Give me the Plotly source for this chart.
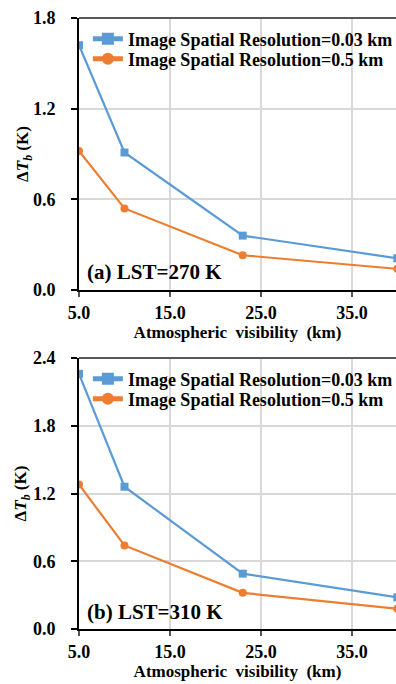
import plotly.graph_objects as go
from plotly.subplots import make_subplots

visibility = [5, 10, 23, 40]
a_res003 = [1.62, 0.91, 0.36, 0.21]
a_res05 = [0.92, 0.54, 0.23, 0.14]
b_res003 = [2.26, 1.26, 0.49, 0.28]
b_res05 = [1.28, 0.74, 0.32, 0.18]
name_003 = "Image Spatial Resolution=0.03 km"
name_05 = "Image Spatial Resolution=0.5 km"
x_ticks = [5, 15, 25, 35]
a_yticks = [0.0, 0.6, 1.2, 1.8]
b_yticks = [0.0, 0.6, 1.2, 1.8, 2.4]

BLUE = "#5B9BD5"
ORANGE = "#ED7D31"
FONT = "Liberation Serif"

fig = make_subplots(rows=2, cols=1, vertical_spacing=0.111)
fig.update_layout(
    xaxis=dict(domain=[0, 1]),
    yaxis=dict(domain=[0.5548, 1.0]),
    xaxis2=dict(domain=[0, 1]),
    yaxis2=dict(domain=[0.0, 0.4435]),
)

legs = [("legend", "legend2"), ("legend3", "legend4")]
for row, (s1, s2) in enumerate([(a_res003, a_res05), (b_res003, b_res05)], start=1):
    l1, l2 = legs[row - 1]
    fig.add_trace(go.Scatter(x=visibility, y=s1, name="<b>" + name_003 + "</b>", mode="lines+markers",
                             line=dict(color=BLUE, width=2.2),
                             marker=dict(symbol="square", size=8, color=BLUE),
                             legend=l1, cliponaxis=True), row=row, col=1)
    fig.add_trace(go.Scatter(x=visibility, y=s2, name="<b>" + name_05 + "</b>", mode="lines+markers",
                             line=dict(color=ORANGE, width=2.2),
                             marker=dict(symbol="circle", size=8, color=ORANGE),
                             legend=l2, cliponaxis=True), row=row, col=1)

xcommon = dict(range=[5, 39.85], tickvals=x_ticks, ticktext=[f"<b>{v:.1f}</b>" for v in x_ticks],
               showgrid=True, gridcolor="#d9d9d9", gridwidth=1.5,
               showline=True, linecolor="black", linewidth=2,
               ticks="outside", ticklen=5, tickwidth=1.5, tickcolor="#555",
               tickfont=dict(family=FONT, size=18, color="black"),
               ticklabelstandoff=0, zeroline=False,
               title=dict(text="<b>Atmospheric&nbsp; visibility&nbsp; (km)</b>",
                          font=dict(family=FONT, size=17, color="black"), standoff=4))
fig.update_xaxes(**xcommon)

ytitle = "<b>Δ<i>T</i><sub><i>b</i></sub> (K)</b>"
for row, (ticks, top) in enumerate([(a_yticks, 1.8), (b_yticks, 2.4)], start=1):
    fig.update_yaxes(range=[0, top], tickvals=ticks, ticktext=[f"<b>{v:.1f}</b>" for v in ticks],
                     showgrid=True, gridcolor="#d9d9d9", gridwidth=1.5,
                     showline=True, linecolor="black", linewidth=2,
                     ticks="outside", ticklen=6, tickwidth=1.5, tickcolor="black",
                     tickfont=dict(family=FONT, size=18, color="black"),
                     ticklabelstandoff=12, zeroline=False,
                     title=dict(text=ytitle, font=dict(family=FONT, size=17, color="black"), standoff=0),
                     row=row, col=1)

# top border lines
for xr, yr in [("x domain", "y domain"), ("x2 domain", "y2 domain")]:
    fig.add_shape(type="line", xref=xr, yref=yr,
                  x0=0, x1=1, y0=1, y1=1, line=dict(color="#595959", width=2))

fig.add_annotation(text="<b>(a) LST=270 K</b>", xref="x domain", yref="y domain", x=0.018, y=0.066,
                   xanchor="left", yanchor="middle", showarrow=False,
                   font=dict(family=FONT, size=21, color="black"))
fig.add_annotation(text="<b>(b) LST=310 K</b>", xref="x2 domain", yref="y2 domain", x=0.018, y=0.063,
                   xanchor="left", yanchor="middle", showarrow=False,
                   font=dict(family=FONT, size=21, color="black"))

legfont = dict(family=FONT, size=18, color="black")
legbase = dict(x=0.028, xanchor="left", yanchor="middle", font=legfont,
               bgcolor="rgba(0,0,0,0)", itemsizing="constant")
fig.update_layout(
    width=396, height=684,
    margin=dict(l=79, r=0, t=18, b=55, autoexpand=False),
    plot_bgcolor="white", paper_bgcolor="white",
    showlegend=True,
    legend=dict(y=0.9656, **legbase),
    legend2=dict(y=0.9329, **legbase),
    legend3=dict(y=0.4092, **legbase),
    legend4=dict(y=0.3764, **legbase),
)

fig.write_html("out.html")
